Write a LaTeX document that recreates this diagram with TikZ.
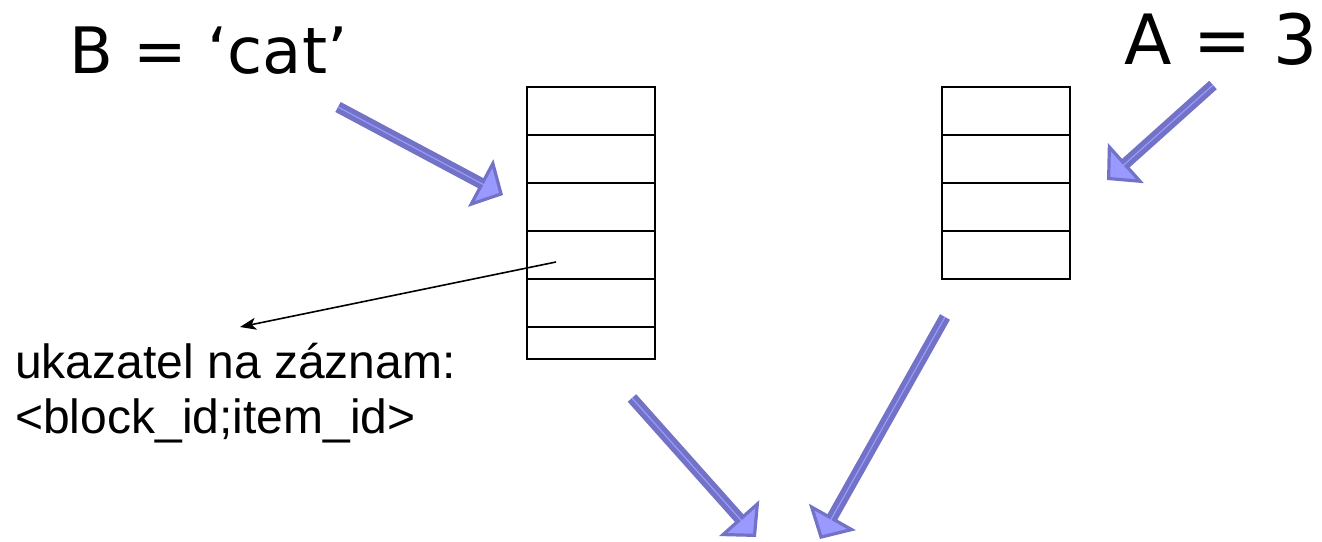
\documentclass[tikz,border=0pt]{standalone}
\usepackage{fontspec}
\setmainfont{Liberation Sans}
\newfontfamily\varfont{DejaVu Sans}
\usetikzlibrary{
  positioning,
  arrows.meta
}
\definecolor{arrowdark}{RGB}{114,114,198}
\definecolor{arrowlight}{RGB}{153,153,255}
\tikzset{
  x=0.75pt, y=-0.75pt,
  cell/.style={draw, line width=1.1pt, minimum width=96pt, minimum height=36pt, inner sep=0pt, outer sep=0pt},
  lastcell/.style={cell, minimum height=24pt},
  bigarrow/.style={draw=arrowdark, line width=8.5pt,
    -{Triangle[length=19pt, width=40pt, line width=2.4pt, fill=arrowlight]},
    postaction={draw=arrowlight, line width=0.9pt, -, shorten >=12pt}},
  pointer/.style={line width=1.2pt, -{Stealth[length=12pt, width=9pt, inset=3pt]}},
  varlabel/.style={inner sep=0pt, font=\varfont\fontsize{48}{56}\selectfont}
}

\begin{document}
\begin{tikzpicture}
    \useasboundingbox (0,0) rectangle (1322,542);
    % left block
    \node[cell, anchor=north west] (L1) at (527,87) {};
    \foreach \i [remember=\i as \lasti (initially 1)] in {2,...,5}
      \node[cell, below=0pt of L\lasti] (L\i) {};
    \node[lastcell, below=0pt of L5] (L6) {};
    % right block
    \node[cell, anchor=north west] (R1) at (942,87) {};
    \foreach \i [remember=\i as \lasti (initially 1)] in {2,...,4}
      \node[cell, below=0pt of R\lasti] (R\i) {};

    \node[varlabel, anchor=base west] (bvar) at (69,74) {B = ‘cat’};
    \node[varlabel, anchor=base east, font=\varfont\fontsize{52}{60}\selectfont] (avar) at (1318,65) {A = 3};
    \node[anchor=base west, align=left, inner sep=0pt, font=\fontsize{36}{41.25}\selectfont] (ptrtext) at (15,433)
      {ukazatel na záznam:\\<block\_id;item\_id>};

    \coordinate (btail) at (338,107);
    \coordinate (bhead) at (503,195);
    \coordinate (atail) at (1213,85);
    \coordinate (ahead) at (1107,180);
    \coordinate (ltail) at (632,398);
    \coordinate (lhead) at (756,537);
    \coordinate (rtail) at (945,317);
    \coordinate (rhead) at (820,539);
    \coordinate (ptrsrc) at (556,262);
    \coordinate (ptrtip) at (240,327);

    \draw[bigarrow] (btail) -- (bhead);
    \draw[bigarrow] (atail) -- (ahead);
    \draw[bigarrow] (ltail) -- (lhead);
    \draw[bigarrow] (rtail) -- (rhead);
    \draw[pointer] (ptrsrc) -- (ptrtip);
\end{tikzpicture}
\end{document}
